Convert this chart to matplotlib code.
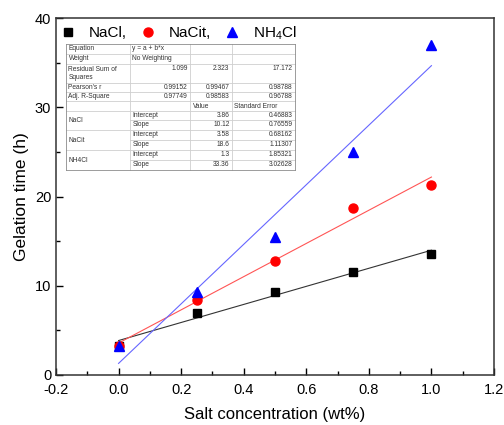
import matplotlib
matplotlib.use("Agg")
import matplotlib.pyplot as plt
from matplotlib.lines import Line2D

plt.rcParams["font.family"] = ["Liberation Sans", "DejaVu Sans"]
plt.rcParams["mathtext.default"] = "regular"
plt.rcParams["axes.unicode_minus"] = False

# measured points
conc = [0.0, 0.25, 0.5, 0.75, 1.0]
nacl = [3.3, 7.0, 9.3, 11.5, 13.6]
nacit = [3.3, 8.4, 12.8, 18.7, 21.3]
nh4cl = [3.3, 9.3, 15.5, 25.0, 37.0]

# linear fit table
eq_text = "y = a + b*x"
weight_text = "No Weighting"
rss = ["1.099", "2.323", "17.172"]
pearson = ["0.99152", "0.99467", "0.98788"]
adj_r2 = ["0.97749", "0.98583", "0.96788"]
fit_names = ["NaCl", "NaCit", "NH4Cl"]
intercepts = [3.86, 3.58, 1.3]
slopes = [10.12, 18.6, 33.36]
intercept_err = ["0.46883", "0.68162", "1.85321"]
slope_err = ["0.76559", "1.11307", "3.02628"]

W, H = 504, 425
fig = plt.figure(figsize=(W / 100, H / 100), dpi=100)
ax = fig.add_axes([56 / W, 1 - 375 / H, 438 / W, 357 / H])

series = [
    (nacl, "black", "s", 6.0, "NaCl,", "#333333"),
    (nacit, "red", "o", 6.5, "NaCit,", "#ff5555"),
    (nh4cl, "blue", "^", 7.0, r"NH$_4$Cl", "#6666ff"),
]
fit_x = [0.0, 1.0]
handles = []
for (ys, col, mk, ms, lab, lcol), a, b in zip(series, intercepts, slopes):
    ax.plot(fit_x, [a + b * x for x in fit_x], color=lcol, lw=0.8, zorder=2)
    ax.plot(conc, ys, ls="none", marker=mk, ms=ms, color=col, zorder=3)
    handles.append(Line2D([], [], ls="none", marker=mk, ms=ms, color=col, label=lab))

ax.legend(handles=handles, ncol=3, loc="upper left", frameon=False,
          fontsize=11, handletextpad=0.9, columnspacing=0.85,
          borderaxespad=0.0, handlelength=1.0, bbox_to_anchor=(-0.005, 1.0))

ax.set_xlim(-0.2, 1.2)
ax.set_ylim(0, 40)
ax.set_xticks([-0.2, 0.0, 0.2, 0.4, 0.6, 0.8, 1.0, 1.2])
ax.set_xticks([-0.1, 0.1, 0.3, 0.5, 0.7, 0.9, 1.1], minor=True)
ax.set_yticks([0, 10, 20, 30, 40])
ax.set_yticks([5, 15, 25, 35], minor=True)
ax.tick_params(which="both", direction="in", labelsize=10.5, width=1)
ax.tick_params(which="major", length=5)
ax.tick_params(which="minor", length=3)
ax.tick_params(axis="x", pad=6)
ax.set_xlabel("Salt concentration (wt%)", fontsize=12, labelpad=7)
ax.set_ylabel("Gelation time (h)", fontsize=12.5, labelpad=4)
for s in ax.spines.values():
    s.set_linewidth(1.1)
    s.set_color("#333333")


# table drawn in figure pixels
def fx(px):
    return px / W


def fy(py):
    return 1 - py / H


cols = [66, 130, 190, 232, 295]
rows = [44, 54, 64, 83, 92, 101, 111, 120, 130, 140, 150, 160, 170]
inner = "#cfcfcf"
tc = "#333333"
fs = 4.8


def hline(py, x0, x1, c=inner):
    fig.add_artist(Line2D([fx(x0), fx(x1)], [fy(py), fy(py)], color=c, lw=0.6))


def vline(px, y0, y1, c=inner):
    fig.add_artist(Line2D([fx(px), fx(px)], [fy(y0), fy(y1)], color=c, lw=0.6))


def cell_text(s, c, r0, r1, ha="left", va="center"):
    if ha == "left":
        x = cols[c] + 2.5
    else:
        x = cols[c + 1] - 2.5
    if va == "center":
        y = (rows[r0] + rows[r1]) / 2
    else:
        y = rows[r0] + 1
    fig.text(fx(x), fy(y), s, ha=ha, va=va, fontsize=fs, color=tc)


# inner grid
for i, r in enumerate(rows[1:-1], start=1):
    # merged cells in first column for fit names
    if i in (7, 9, 11):
        hline(r, cols[1], cols[-1])
    else:
        hline(r, cols[0], cols[-1])
for c in cols[1:-1]:
    vline(c, rows[0], rows[-1])
# outer border
hline(rows[0], cols[0], cols[-1], "#8c8c8c")
hline(rows[-1], cols[0], cols[-1], "#8c8c8c")
vline(cols[0], rows[0], rows[-1], "#8c8c8c")
vline(cols[-1], rows[0], rows[-1], "#8c8c8c")

cell_text("Equation", 0, 0, 1)
cell_text(eq_text, 1, 0, 1)
cell_text("Weight", 0, 1, 2)
cell_text(weight_text, 1, 1, 2)
cell_text("Residual Sum of\nSquares", 0, 2, 3)
for j in range(3):
    cell_text(rss[j], j + 1, 2, 3, ha="right", va="top")
    cell_text(pearson[j], j + 1, 3, 4, ha="right")
    cell_text(adj_r2[j], j + 1, 4, 5, ha="right")
cell_text("Pearson's r", 0, 3, 4)
cell_text("Adj. R-Square", 0, 4, 5)
cell_text("Value", 2, 5, 6)
cell_text("Standard Error", 3, 5, 6)
for k in range(3):
    r = 6 + 2 * k
    cell_text(fit_names[k], 0, r, r + 2)
    cell_text("Intercept", 1, r, r + 1)
    cell_text("Slope", 1, r + 1, r + 2)
    cell_text(f"{intercepts[k]:g}", 2, r, r + 1, ha="right")
    cell_text(f"{slopes[k]:g}", 2, r + 1, r + 2, ha="right")
    cell_text(intercept_err[k], 3, r, r + 1, ha="right")
    cell_text(slope_err[k], 3, r + 1, r + 2, ha="right")

fig.savefig("out.png", dpi=100)
